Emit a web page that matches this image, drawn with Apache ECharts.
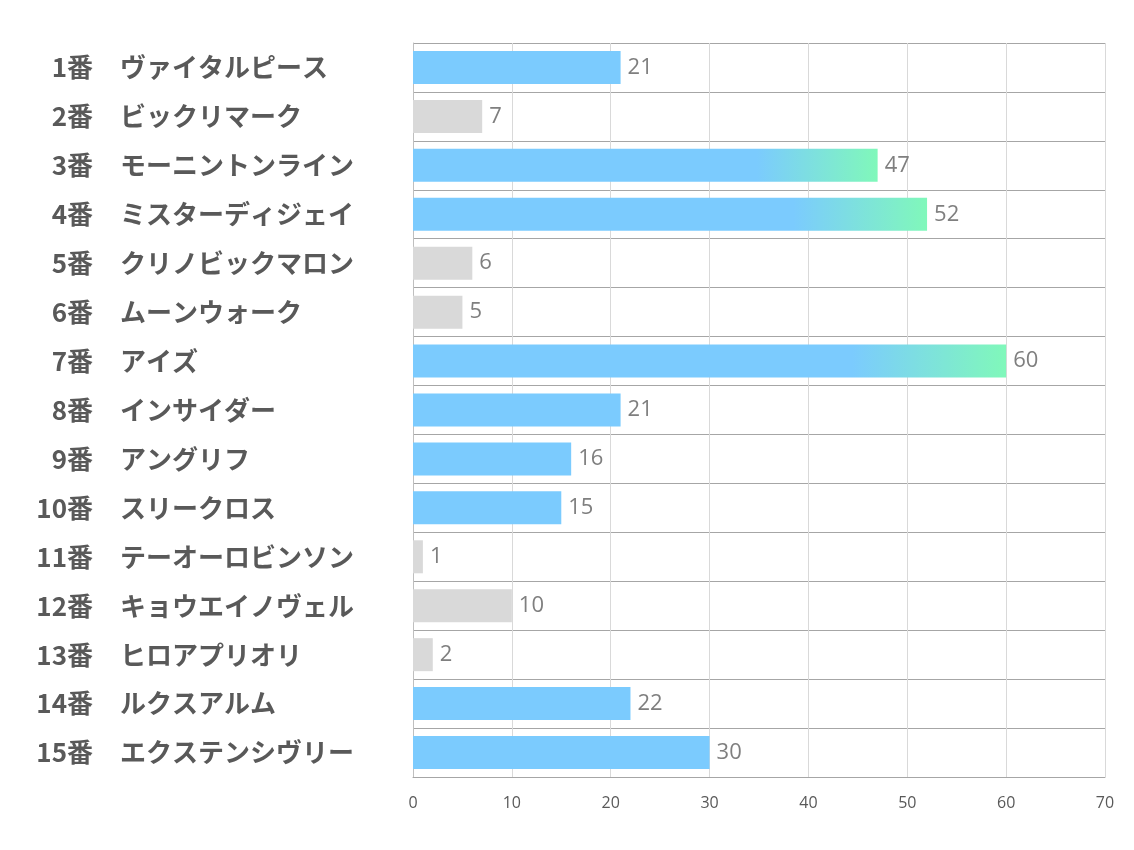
<!DOCTYPE html>
<html>
<head>
<meta charset="utf-8">
<script src="https://cdn.jsdelivr.net/npm/echarts@6/dist/echarts.min.js"></script>
<style>
html,body{margin:0;padding:0;background:#fff;}
#main{width:1134px;height:850px;}
</style>
</head>
<body>
<div id="main"></div>
<script>
// 馬番・馬名・値
var nums = ['1番','2番','3番','4番','5番','6番','7番','8番','9番','10番','11番','12番','13番','14番','15番'];
var names = ['ヴァイタルピース','ビックリマーク','モーニントンライン','ミスターディジェイ','クリノビックマロン','ムーンウォーク','アイズ','インサイダー','アングリフ','スリークロス','テーオーロビンソン','キョウエイノヴェル','ヒロアプリオリ','ルクスアルム','エクステンシヴリー'];
var values = [21, 7, 47, 52, 6, 5, 60, 21, 16, 15, 1, 10, 2, 22, 30];
var xTicks = [0, 10, 20, 30, 40, 50, 60, 70];
var greyIdx = [1, 4, 5, 10, 11, 12];     // 灰色のバー
var topIdx = [2, 3, 6];                  // グラデーションのバー

var BLUE = '#7BCBFE', GREEN = '#80F8BA', GREY = '#D9D9D9';
var LABEL_FONT = {fontSize: 26, fontWeight: 'bold', color: '#595959', fontFamily: 'Noto Sans CJK JP'};

var barData = values.map(function(v, i){
	var c = BLUE;
	if (greyIdx.indexOf(i) >= 0) c = GREY;
	if (topIdx.indexOf(i) >= 0) {
		c = new echarts.graphic.LinearGradient(0, 0, 1, 0, [
			{offset: 0, color: BLUE},
			{offset: 0.74, color: BLUE},
			{offset: 1, color: GREEN}
		]);
	}
	return {value: v, itemStyle: {color: c}};
});

var myChart = echarts.init(document.getElementById('main'));
var option = {
	animation: false,
	grid: {left: 413, right: 29, top: 43, bottom: 73},
	xAxis: {
		type: 'value',
		min: xTicks[0],
		max: xTicks[xTicks.length - 1],
		interval: 10,
		axisLine: {show: true, lineStyle: {color: '#A6A6A6', width: 1}},
		axisTick: {show: false},
		axisLabel: {color: '#595959', fontSize: 16, margin: 18, fontFamily: 'Open Sans'},
		splitLine: {show: true, lineStyle: {color: '#D9D9D9', width: 1}}
	},
	yAxis: [{
		type: 'category',						// 馬番（右寄せ）
		inverse: true,
		data: nums,
		axisLine: {show: true, lineStyle: {color: '#BFBFBF'}},
		axisTick: {show: false},
		splitLine: {show: true, lineStyle: {color: '#A6A6A6', width: 1}},
		axisLabel: Object.assign({margin: 320, align: 'right'}, LABEL_FONT)
	}, {
		type: 'category',						// 馬名（左寄せ）
		position: 'left',
		inverse: true,
		data: names,
		axisLine: {show: false},
		axisTick: {show: false},
		splitLine: {show: false},
		axisLabel: Object.assign({margin: 293, align: 'left'}, LABEL_FONT)
	}],
	series: [{
		type: 'bar',
		data: barData,
		barWidth: 33,
		label: {
			show: true,
			position: 'right',
			distance: 7,
			color: '#7F7F7F',
			fontSize: 22,
			fontFamily: 'Open Sans'
		}
	}]
};
myChart.setOption(option);
</script>
</body>
</html>
